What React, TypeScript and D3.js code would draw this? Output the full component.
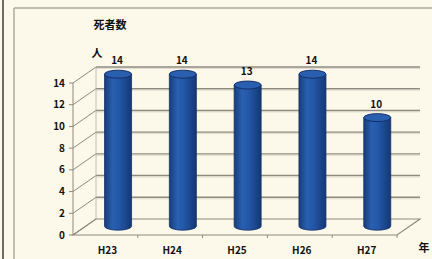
import React from 'react';
import * as d3 from 'd3';

const categories = ['H23', 'H24', 'H25', 'H26', 'H27'];
const deaths = [14, 14, 13, 14, 10];
const yTicks = [0, 2, 4, 6, 8, 10, 12, 14];

const W = 432;
const H = 259;
// 3D depth of the floor
const DX = 23;
const DY = -16;
const BAR_DEPTH = 0.55;

const App = () => {
    const x = d3.scaleBand<string>().domain(categories).range([73, 397]);
    const y = d3.scaleLinear().domain([0, 14]).range([235, 83]);
    const step = x.step();
    const barW = 27;
    const ry = 4;

    const font = '"Noto Sans CJK JP", "DejaVu Sans", sans-serif';
    const grid = '#8d8a80';

    return (
        <svg width={W} height={H} style={{ position: 'absolute', left: 0, top: 0, background: '#fdf9ea' }}>
            <defs>
                <linearGradient id="barGrad" x1="0" x2="1" y1="0" y2="0">
                    <stop offset="0%" stopColor="#163d7c" />
                    <stop offset="30%" stopColor="#2a60b0" />
                    <stop offset="55%" stopColor="#2356a6" />
                    <stop offset="100%" stopColor="#143874" />
                </linearGradient>
            </defs>

            {/* chart frame and scan edge */}
            <line x1={3} x2={3} y1={0} y2={H} stroke="#3a3a36" strokeWidth={1.5} />
            <line x1={14} x2={14} y1={8} y2={H} stroke="#9a968c" strokeWidth={1.2} />
            <line x1={14} x2={W} y1={8} y2={8} stroke="#aca89c" strokeWidth={1.5} />

            {/* back wall gridlines + side wall */}
            {yTicks.map(t => (
                <g key={t}>
                    {t > 0 && (
                        <line x1={73 + DX} x2={397 + DX} y1={y(t) + DY} y2={y(t) + DY}
                            stroke={grid} strokeWidth={1.4} />
                    )}
                    {t > 0 && (
                        <line x1={73 + DX} x2={397 + DX} y1={y(t) + DY + 1.5} y2={y(t) + DY + 1.5}
                            stroke="#d8d4c8" strokeWidth={0.8} />
                    )}
                    <line x1={73} x2={73 + DX} y1={y(t)} y2={y(t) + DY} stroke={grid} strokeWidth={1} />
                    <line x1={69} x2={73} y1={y(t)} y2={y(t)} stroke={grid} strokeWidth={1} />
                    <text x={65} y={y(t)} dy="0.35em" textAnchor="end" fontFamily={font}
                        fontWeight="bold" fontSize={10} fill="#111">{t}</text>
                </g>
            ))}
            <line x1={73} x2={73} y1={y(0)} y2={y(14)} stroke={grid} strokeWidth={1} />
            <line x1={73 + DX} x2={73 + DX} y1={y(0) + DY} y2={y(14) + DY} stroke="#b4b0a4" strokeWidth={0.8} />

            {/* floor */}
            <path d={`M${73},${y(0)} L${397},${y(0)} L${397 + DX},${y(0) + DY} L${73 + DX},${y(0) + DY} Z`}
                fill="none" stroke={grid} strokeWidth={1.2} />
            {x.domain().map((c, i) => (
                <line key={c} x1={73 + step * (i + 1)} x2={73 + step * (i + 1)} y1={y(0)} y2={y(0) + 3}
                    stroke={grid} strokeWidth={1} />
            ))}

            {/* cylinders */}
            {categories.map((c, i) => {
                const cx = (x(c) as number) + step / 2 + DX * BAR_DEPTH;
                const base = y(0) + DY * BAR_DEPTH;
                const top = base - (y(0) - y(deaths[i]));
                const l = cx - barW / 2;
                const r = cx + barW / 2;
                return (
                    <g key={c}>
                        <path d={`M${l},${top} L${l},${base} A${barW / 2},${ry} 0 0 0 ${r},${base} L${r},${top} Z`}
                            fill="url(#barGrad)" stroke="#123066" strokeWidth={0.8} />
                        <ellipse cx={cx} cy={top} rx={barW / 2} ry={ry} fill="#2a5eae"
                            stroke="#14306a" strokeWidth={1} />
                        <text x={cx - 1} y={top - 10} textAnchor="middle" fontFamily={font}
                            fontWeight="bold" fontSize={10} fill="#111">{deaths[i]}</text>
                    </g>
                );
            })}

            {/* category labels */}
            {categories.map(c => (
                <text key={c} x={(x(c) as number) + step / 2 + 2} y={250} dy="0.35em" textAnchor="middle"
                    fontFamily={font} fontWeight="bold" fontSize={10} fill="#111">{c}</text>
            ))}

            <text x={110} y={25} dy="0.35em" textAnchor="middle" fontFamily={font} fontWeight="bold"
                fontSize={11} fill="#111">死者数</text>
            <text x={97} y={53} dy="0.35em" textAnchor="middle" fontFamily={font} fontWeight="bold"
                fontSize={11} fill="#111">人</text>
            <text x={424} y={248} dy="0.35em" textAnchor="middle" fontFamily={font} fontWeight="bold"
                fontSize={11} fill="#111">年</text>
        </svg>
    );
};

export default App;
